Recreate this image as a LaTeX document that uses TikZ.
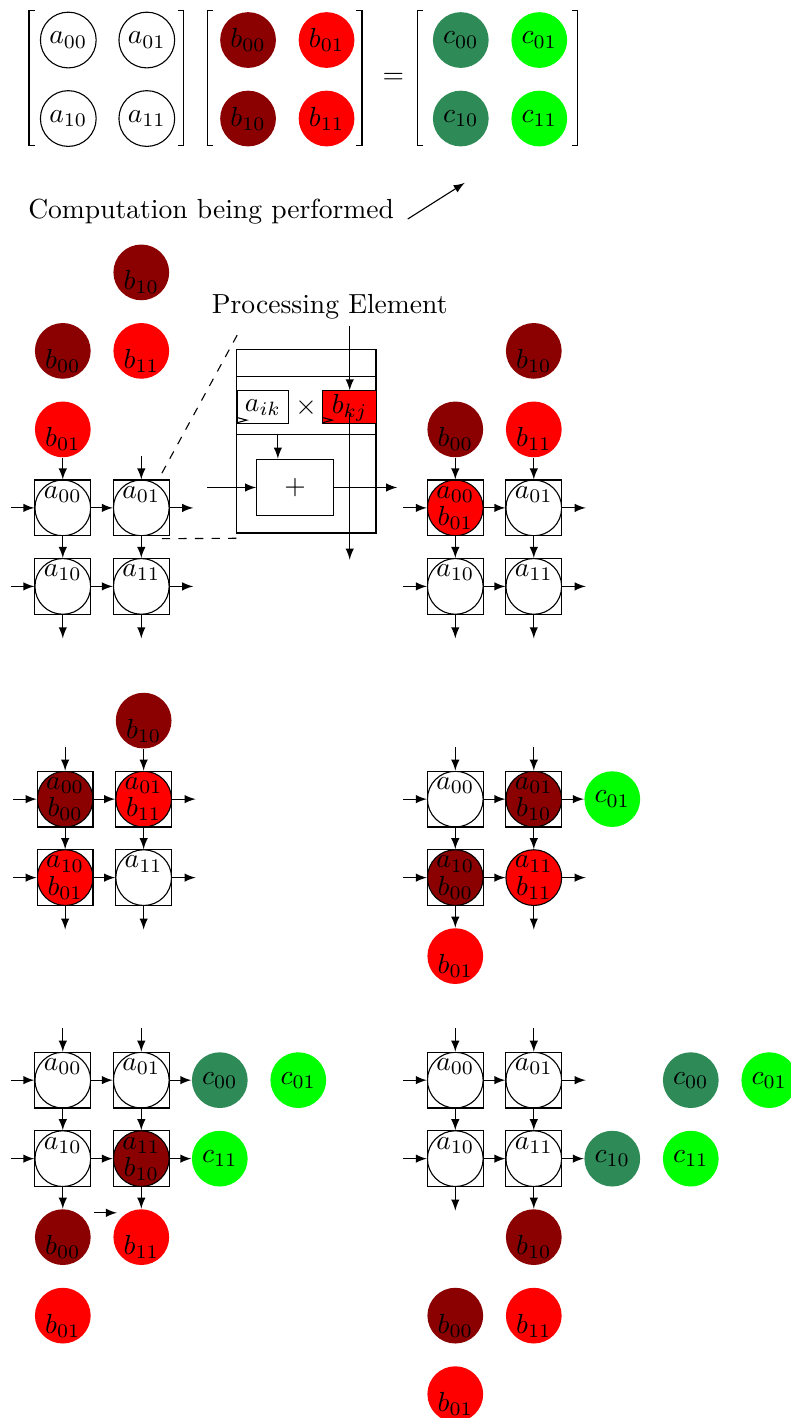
\documentclass[tikz,border=0pt]{standalone}
\usepackage[dvipsnames]{xcolor}
\usepackage{tikz}
\usepackage{amsmath, amssymb}
\definecolor{palette_rougef}{HTML}{8B0000}
\definecolor{palette_rouge}{HTML}{FF0000}
\definecolor{palette_vertf}{HTML}{2E8B57}
\definecolor{palette_vert}{HTML}{00FF00}
\tikzset{
    pe/.style={rectangle, draw, minimum size=0.71cm, inner sep=0pt, align=center,
        path picture={\filldraw[fill=#1] (path picture bounding box.center) circle (0.355cm);}},
    pe/.default=white,
    penobox/.style={circle, draw, fill=#1, minimum size=0.71cm, inner sep=-4pt, align=center},
    ball/.style={circle, fill=#1, minimum size=0.71cm, inner sep=-4pt, align=center},
    elt/.style={circle, draw, minimum size=0.71cm, inner sep=0pt},
    flow/.style={-latex},
}
\newcommand{\paonly}[1]{$a_{#1}$\\[-2.2pt]\phantom{$b_{00}$}}
\newcommand{\pbonly}[1]{\phantom{$a_{00}$}\\[-2.2pt]$b_{#1}$}
\newcommand{\pab}[2]{$a_{#1}$\\[-2.2pt]$b_{#2}$}

\begin{document}
\begin{tikzpicture}
    \useasboundingbox (0,0) rectangle (10.064,-18.064);

    \draw[line width=0.5pt] (0.44,-0.13) -- (0.37,-0.13) -- (0.37,-1.85) -- (0.44,-1.85);
    \draw[line width=0.5pt] (2.27,-0.13) -- (2.34,-0.13) -- (2.34,-1.85) -- (2.27,-1.85);
    \draw[line width=0.5pt] (2.71,-0.13) -- (2.64,-0.13) -- (2.64,-1.85) -- (2.71,-1.85);
    \draw[line width=0.5pt] (4.54,-0.13) -- (4.61,-0.13) -- (4.61,-1.85) -- (4.54,-1.85);
    \draw[line width=0.5pt] (5.39,-0.13) -- (5.32,-0.13) -- (5.32,-1.85) -- (5.39,-1.85);
    \draw[line width=0.5pt] (7.29,-0.13) -- (7.36,-0.13) -- (7.36,-1.85) -- (7.29,-1.85);
    \node[elt] (ta00) at (0.87,-0.51) {$a_{00}$};
    \node[elt] (ta01) at (1.87,-0.51) {$a_{01}$};
    \node[elt] (ta10) at (0.87,-1.51) {$a_{10}$};
    \node[elt] (ta11) at (1.87,-1.51) {$a_{11}$};
    \node[ball=palette_rougef] (tb00) at (3.16,-0.51) {$b_{00}$};
    \node[ball=palette_rouge] (tb01) at (4.16,-0.51) {$b_{01}$};
    \node[ball=palette_rougef] (tb10) at (3.16,-1.51) {$b_{10}$};
    \node[ball=palette_rouge] (tb11) at (4.16,-1.51) {$b_{11}$};
    \node (eq) at (5.01,-1.0) {$=$};
    \node[ball=palette_vertf] (tc00) at (5.87,-0.51) {$c_{00}$};
    \node[ball=palette_vert] (tc01) at (6.87,-0.51) {$c_{01}$};
    \node[ball=palette_vertf] (tc10) at (5.87,-1.51) {$c_{10}$};
    \node[ball=palette_vert] (tc11) at (6.87,-1.51) {$c_{11}$};

    \node (comp) at (2.69,-2.70) {Computation being performed};
    \coordinate (compto) at (5.92,-2.33);
    \draw[flow] ([shift={(0.05,-0.09)}]comp.east) -- (compto);

    \node[ball=palette_rougef] (L1b10) at (1.80,-3.47) {\pbonly{10}};
    \node[ball=palette_rougef] (L1b00) at (0.80,-4.47) {\pbonly{00}};
    \node[ball=palette_rouge] (L1b11) at (1.80,-4.47) {\pbonly{11}};
    \node[ball=palette_rouge] (L1b01) at (0.80,-5.47) {\pbonly{01}};
    \node[pe] (L1n00) at (0.80,-6.47) {\paonly{00}};
    \node[pe] (L1n01) at (1.80,-6.47) {\paonly{01}};
    \node[pe] (L1n10) at (0.80,-7.47) {\paonly{10}};
    \node[pe] (L1n11) at (1.80,-7.47) {\paonly{11}};
    \draw[flow] (L1b01) -- (L1n00);
    \draw[flow] ([yshift=3mm]L1n01.north) -- (L1n01);
    \draw[flow] ([xshift=-3mm]L1n00.west) -- (L1n00);
    \draw[flow] ([xshift=-3mm]L1n10.west) -- (L1n10);
    \draw[flow] (L1n00) -- (L1n01);
    \draw[flow] (L1n10) -- (L1n11);
    \draw[flow] (L1n01) -- ([xshift=3mm]L1n01.east);
    \draw[flow] (L1n11) -- ([xshift=3mm]L1n11.east);
    \draw[flow] (L1n00) -- (L1n10);
    \draw[flow] (L1n01) -- (L1n11);
    \draw[flow] (L1n10) -- ([yshift=-3mm]L1n10.south);
    \draw[flow] (L1n11) -- ([yshift=-3mm]L1n11.south);

    \node (petitle) at (4.20,-3.91) {Processing Element};
    \node[draw, minimum width=1.78cm, minimum height=2.34cm] (peout) at (3.90,-5.62) {};
    \node[draw, minimum width=1.78cm, minimum height=0.74cm] (peband) at (3.90,-5.17) {};
    \node[draw, fill=white, minimum width=0.66cm, minimum height=0.42cm, inner sep=0pt] (aik) at (3.35,-5.19) {$a_{ik}$};
    \node (times) at (3.90,-5.19) {$\times$};
    \node[draw, fill=palette_rouge, minimum width=0.69cm, minimum height=0.42cm, inner sep=0pt] (bkj) at (4.455,-5.19) {$b_{kj}$};
    \node[draw, minimum width=0.98cm, minimum height=0.72cm] (plus) at (3.76,-6.21) {$+$};
    \draw ([yshift=0.09cm]aik.south west) -- ++(0.13,-0.035) -- ++(-0.13,-0.035);
    \draw ([yshift=0.09cm]bkj.south west) -- ++(0.13,-0.035) -- ++(-0.13,-0.035);
    \coordinate (vtop) at (4.455,-4.15);
    \coordinate (vbot) at (4.455,-7.13);
    \coordinate (plusin) at (2.64,-6.21);
    \coordinate (plusout) at (5.06,-6.21);
    \draw[flow] (vtop) -- (bkj);
    \draw[flow] ([yshift=-0.08cm]bkj.center) -- (vbot);
    \draw[flow] ([xshift=-0.36cm]peband.south) -- ([xshift=-0.22cm]plus.north);
    \draw[flow] (plusin) -- (plus);
    \draw[flow] (plus) -- (plusout);
    \draw[dashed] ([shift={(-0.1,0.08)}]L1n01.north east) -- ([shift={(0.06,0.25)}]peout.north west);
    \draw[dashed] ([shift={(-0.1,-0.03)}]L1n01.south east) -- ([shift={(0.02,-0.06)}]peout.south west);

    \node[ball=palette_rougef] (R1b10) at (6.80,-4.47) {\pbonly{10}};
    \node[ball=palette_rougef] (R1b00) at (5.80,-5.47) {\pbonly{00}};
    \node[ball=palette_rouge] (R1b11) at (6.80,-5.47) {\pbonly{11}};
    \node[pe=palette_rouge] (R1n00) at (5.80,-6.47) {\pab{00}{01}};
    \node[pe] (R1n01) at (6.80,-6.47) {\paonly{01}};
    \node[pe] (R1n10) at (5.80,-7.47) {\paonly{10}};
    \node[pe] (R1n11) at (6.80,-7.47) {\paonly{11}};
    \draw[flow] (R1b00) -- (R1n00);
    \draw[flow] (R1b11) -- (R1n01);
    \draw[flow] ([xshift=-3mm]R1n00.west) -- (R1n00);
    \draw[flow] ([xshift=-3mm]R1n10.west) -- (R1n10);
    \draw[flow] (R1n00) -- (R1n01);
    \draw[flow] (R1n10) -- (R1n11);
    \draw[flow] (R1n01) -- ([xshift=3mm]R1n01.east);
    \draw[flow] (R1n11) -- ([xshift=3mm]R1n11.east);
    \draw[flow] (R1n00) -- (R1n10);
    \draw[flow] (R1n01) -- (R1n11);
    \draw[flow] (R1n10) -- ([yshift=-3mm]R1n10.south);
    \draw[flow] (R1n11) -- ([yshift=-3mm]R1n11.south);

    \node[ball=palette_rougef] (L2b10) at (1.83,-9.18) {\pbonly{10}};
    \node[pe=palette_rougef] (L2n00) at (0.83,-10.18) {\pab{00}{00}};
    \node[pe=palette_rouge] (L2n01) at (1.83,-10.18) {\pab{01}{11}};
    \node[pe=palette_rouge] (L2n10) at (0.83,-11.18) {\pab{10}{01}};
    \node[pe] (L2n11) at (1.83,-11.18) {\paonly{11}};
    \draw[flow] ([yshift=3mm]L2n00.north) -- (L2n00);
    \draw[flow] (L2b10) -- (L2n01);
    \draw[flow] ([xshift=-3mm]L2n00.west) -- (L2n00);
    \draw[flow] ([xshift=-3mm]L2n10.west) -- (L2n10);
    \draw[flow] (L2n00) -- (L2n01);
    \draw[flow] (L2n10) -- (L2n11);
    \draw[flow] (L2n01) -- ([xshift=3mm]L2n01.east);
    \draw[flow] (L2n11) -- ([xshift=3mm]L2n11.east);
    \draw[flow] (L2n00) -- (L2n10);
    \draw[flow] (L2n01) -- (L2n11);
    \draw[flow] (L2n10) -- ([yshift=-3mm]L2n10.south);
    \draw[flow] (L2n11) -- ([yshift=-3mm]L2n11.south);

    \node[pe] (R2n00) at (5.80,-10.18) {\paonly{00}};
    \node[pe=palette_rougef] (R2n01) at (6.80,-10.18) {\pab{01}{10}};
    \node[pe=palette_rougef] (R2n10) at (5.80,-11.18) {\pab{10}{00}};
    \node[penobox=palette_rouge] (R2n11) at (6.80,-11.18) {\pab{11}{11}};
    \node[ball=palette_vert] (R2c01) at (7.80,-10.18) {$c_{01}$};
    \node[ball=palette_rouge] (R2b01) at (5.80,-12.18) {\pbonly{01}};
    \draw[flow] ([yshift=3mm]R2n00.north) -- (R2n00);
    \draw[flow] ([yshift=3mm]R2n01.north) -- (R2n01);
    \draw[flow] ([xshift=-3mm]R2n00.west) -- (R2n00);
    \draw[flow] ([xshift=-3mm]R2n10.west) -- (R2n10);
    \draw[flow] (R2n00) -- (R2n01);
    \draw[flow] (R2n01) -- (R2c01);
    \draw[flow] (R2n10) -- (R2n11);
    \draw[flow] (R2n11) -- ([xshift=3mm]R2n11.east);
    \draw[flow] (R2n00) -- (R2n10);
    \draw[flow] (R2n01) -- (R2n11);
    \draw[flow] (R2n10) -- (R2b01);
    \draw[flow] (R2n11) -- ([yshift=-3mm]R2n11.south);

    \node[pe] (L3n00) at (0.80,-13.76) {\paonly{00}};
    \node[pe] (L3n01) at (1.80,-13.76) {\paonly{01}};
    \node[pe] (L3n10) at (0.80,-14.76) {\paonly{10}};
    \node[pe=palette_rougef] (L3n11) at (1.80,-14.76) {\pab{11}{10}};
    \node[ball=palette_vertf] (L3c00) at (2.80,-13.76) {$c_{00}$};
    \node[ball=palette_vert] (L3c01) at (3.80,-13.76) {$c_{01}$};
    \node[ball=palette_vert] (L3c11) at (2.80,-14.76) {$c_{11}$};
    \node[ball=palette_rougef] (L3b00) at (0.80,-15.76) {\pbonly{00}};
    \node[ball=palette_rouge] (L3b11) at (1.80,-15.76) {\pbonly{11}};
    \node[ball=palette_rouge] (L3b01) at (0.80,-16.76) {\pbonly{01}};
    \draw[flow] ([yshift=3mm]L3n00.north) -- (L3n00);
    \draw[flow] ([yshift=3mm]L3n01.north) -- (L3n01);
    \draw[flow] ([xshift=-3mm]L3n00.west) -- (L3n00);
    \draw[flow] ([xshift=-3mm]L3n10.west) -- (L3n10);
    \draw[flow] (L3n00) -- (L3n01);
    \draw[flow] (L3n01) -- (L3c00);
    \draw[flow] (L3n10) -- (L3n11);
    \draw[flow] (L3n11) -- (L3c11);
    \draw[flow] (L3n00) -- (L3n10);
    \draw[flow] (L3n01) -- (L3n11);
    \draw[flow] (L3n10) -- (L3b00);
    \draw[flow] (L3n11) -- (L3b11);
    \draw[flow] ([shift={(0.40,0.31)}]L3b00.center) -- ([shift={(0.69,0.31)}]L3b00.center);

    \node[pe] (R3n00) at (5.80,-13.76) {\paonly{00}};
    \node[pe] (R3n01) at (6.80,-13.76) {\paonly{01}};
    \node[pe] (R3n10) at (5.80,-14.76) {\paonly{10}};
    \node[pe] (R3n11) at (6.80,-14.76) {\paonly{11}};
    \node[ball=palette_vertf] (R3c00) at (8.80,-13.76) {$c_{00}$};
    \node[ball=palette_vert] (R3c01) at (9.80,-13.76) {$c_{01}$};
    \node[ball=palette_vertf] (R3c10) at (7.80,-14.76) {$c_{10}$};
    \node[ball=palette_vert] (R3c11) at (8.80,-14.76) {$c_{11}$};
    \node[ball=palette_rougef] (R3b10) at (6.80,-15.76) {\pbonly{10}};
    \node[ball=palette_rougef] (R3b00) at (5.80,-16.76) {\pbonly{00}};
    \node[ball=palette_rouge] (R3b11) at (6.80,-16.76) {\pbonly{11}};
    \node[ball=palette_rouge] (R3b01) at (5.80,-17.76) {\pbonly{01}};
    \draw[flow] ([yshift=3mm]R3n00.north) -- (R3n00);
    \draw[flow] ([yshift=3mm]R3n01.north) -- (R3n01);
    \draw[flow] ([xshift=-3mm]R3n00.west) -- (R3n00);
    \draw[flow] ([xshift=-3mm]R3n10.west) -- (R3n10);
    \draw[flow] (R3n00) -- (R3n01);
    \draw[flow] (R3n01) -- ([xshift=3mm]R3n01.east);
    \draw[flow] (R3n10) -- (R3n11);
    \draw[flow] (R3n11) -- (R3c10);
    \draw[flow] (R3n00) -- (R3n10);
    \draw[flow] (R3n01) -- (R3n11);
    \draw[flow] (R3n10) -- ([yshift=-3mm]R3n10.south);
    \draw[flow] (R3n11) -- (R3b10);

\end{tikzpicture}
\end{document}
